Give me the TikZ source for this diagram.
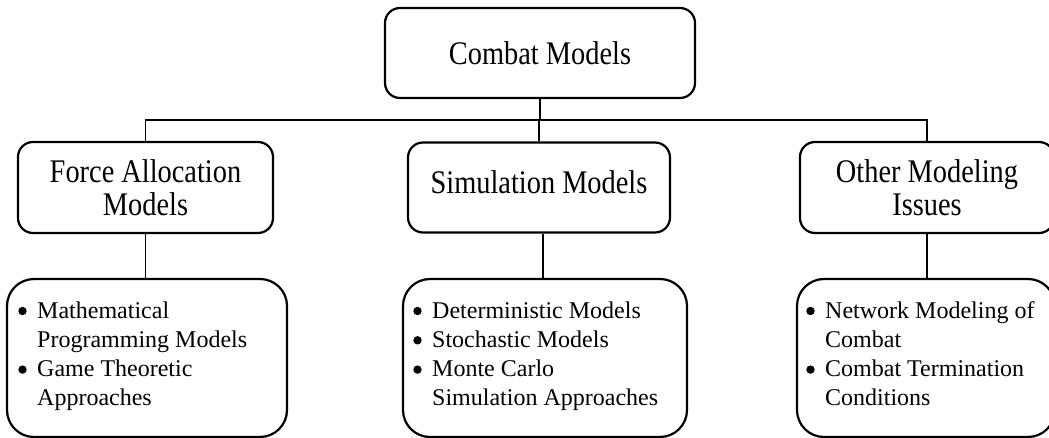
\documentclass[tikz,border=0pt]{standalone}
\usepackage{fontspec}
\setmainfont{Liberation Serif}
\newfontfamily\headfont{Liberation Serif}[FakeStretch=0.86]
\begin{document}
\begin{tikzpicture}[x=1pt,y=-1pt,
  headbox/.style={draw, line width=2.2pt, rounded corners=15pt, inner sep=0pt,
    align=center, font=\headfont\fontsize{33}{33}\selectfont},
  listbox/.style={draw, line width=2.2pt, rounded corners=27pt, inner sep=0pt},
  listtext/.style={anchor=base west, inner sep=0pt,
    font=\fontsize{24}{29.3}\selectfont},
  listdot/.style={fill=black},
  wire/.style={line width=1.4pt}]
\useasboundingbox (0,0) rectangle (1049,438);
\clip (0,0) rectangle (1049,438);

% root
\node[headbox, minimum width=310pt, minimum height=90pt] (top) at (540,53) {Combat Models};

% second level
\node[headbox, minimum width=255pt, minimum height=91pt] (fa) at (145.5,187.5)
  {Force Allocation\\[0pt]Models};
\node[headbox, minimum width=262pt, minimum height=90pt, text depth=10pt] (sim) at (539,187.5)
  {Simulation Models};
\node[headbox, minimum width=254pt, minimum height=91pt] (oth) at (927,187.5)
  {Other Modeling\\[0pt]Issues};

% third level boxes
\node[listbox, minimum width=280pt, minimum height=158pt] (b1) at (147,358) {};
\node[listbox, minimum width=284pt, minimum height=158pt] (b2) at (545,358) {};
\node[listbox, minimum width=258pt, minimum height=158pt] (b3) at (926,358) {};

% list texts (first row baseline at the anchor, rows 29.3pt apart)
\node[listtext] (l1) at (37,318) {\begin{tabular}[t]{@{}l@{}}Mathematical\\
  Programming Models\\ Game Theoretic\\ Approaches\end{tabular}};
\node[listtext] (l2) at (432,318) {\begin{tabular}[t]{@{}l@{}}Deterministic Models\\
  Stochastic Models\\ Monte Carlo\\ Simulation Approaches\end{tabular}};
\node[listtext] (l3) at (825,318) {\begin{tabular}[t]{@{}l@{}}Network Modeling of\\
  Combat\\ Combat Termination\\ Conditions\end{tabular}};

% bullets in front of the items
\foreach \lst/\rows in {l1/{0,2}, l2/{0,1,2}, l3/{0,2}}
  \foreach \r in \rows
    \fill[listdot] ([shift={(-14.5pt,{\r*29.3-7})}]\lst.base west) circle (4.2pt);

% connectors
\coordinate (bus) at (540,120);
\draw[wire] (top.south) -- (top.south |- bus);
\draw[wire] (fa.north) -- (fa.north |- bus) -- (oth.north |- bus) -- (oth.north);
\draw[wire] (sim.north) -- (sim.north |- bus);
\draw[wire] (fa.south) -- (fa.south |- b1.north);
\draw[wire] ([xshift=4pt]sim.south) -- ([xshift=4pt]sim.south |- b2.north);
\draw[wire] (oth.south) -- (oth.south |- b3.north);
\end{tikzpicture}
\end{document}
